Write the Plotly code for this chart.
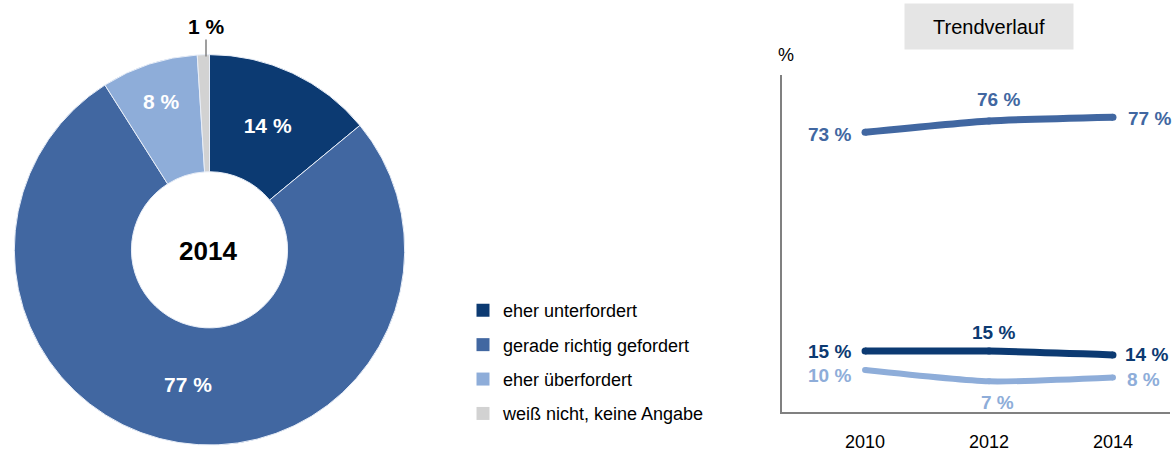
import plotly.graph_objects as go

# Donut data (2014)
pie_labels = ["eher unterfordert", "gerade richtig gefordert", "eher überfordert", "weiß nicht, keine Angabe"]
pie_values = [14, 77, 8, 1]
pie_colors = ["#0c3a72", "#4167a1", "#8eadd9", "#d2d2d2"]

# Trend data
years = [2010, 2012, 2014]
trend_richtig = [73, 76, 77]
trend_unter = [15, 15, 14]
trend_ueber = [10, 7, 8]

FONT = "Liberation Sans, Arial, sans-serif"

fig = go.Figure()

fig.add_trace(go.Pie(
    labels=pie_labels, values=pie_values, sort=False, direction="clockwise",
    rotation=0, hole=0.40,
    marker=dict(colors=pie_colors, line=dict(color="#e8eef8", width=1)),
    texttemplate=["<b>%{value} %</b>", "<b>%{value} %</b>", "<b>%{value} %</b>", ""],
    textposition=["inside", "inside", "inside", "none"],
    insidetextorientation="horizontal",
    textfont=dict(family=FONT, size=21, color="white"),
    domain=dict(x=[12/1172, 407/1172], y=[1-448/452, 1-55/452]),
    showlegend=False, hoverinfo="label+value",
))

# Legend entries
for lab, col in zip(pie_labels, pie_colors):
    fig.add_trace(go.Scatter(
        x=[None], y=[None], mode="markers", name=lab, legendgroup=lab,
        marker=dict(symbol="square", size=13, color=col),
        showlegend=True,
    ))

annotations = []

# label placement per point: (xanchor, yanchor, xshift, yshift)
def add_line(vals, color, places, width):
    fig.add_trace(go.Scatter(
        x=years, y=vals, mode="lines+markers",
        line=dict(color=color, width=width, shape="spline", smoothing=0.6),
        marker=dict(color=color, size=width),
        showlegend=False, cliponaxis=False,
    ))
    for yr, v, (xa, ya, xs, ys) in zip(years, vals, places):
        annotations.append(dict(
            x=yr, y=v, xref="x", yref="y", text=f"<b>{v} %</b>",
            showarrow=False, xanchor=xa, yanchor=ya, xshift=xs, yshift=ys,
            font=dict(family=FONT, size=19, color=color)))

add_line(trend_richtig, "#4167a1",
         [("right", "middle", -12, -2), ("center", "middle", 9, 21), ("left", "middle", 13, -1)], 7)
add_line(trend_unter, "#0c3a72",
         [("right", "middle", -12, 0), ("center", "middle", 4, 19), ("left", "middle", 10, 0)], 7)
add_line(trend_ueber, "#8eadd9",
         [("right", "middle", -12, -6), ("center", "middle", 8, -21), ("left", "middle", 12, -2)], 6)

annotations += [
    dict(text="<b>2014</b>", x=208/1172, y=1-253/452, xref="paper", yref="paper",
         xanchor="center", yanchor="middle",
         showarrow=False, font=dict(family=FONT, size=26, color="black")),
    dict(text="<b>1 %</b>", x=206/1172, y=1-57/452, xref="paper", yref="paper",
         showarrow=True, arrowhead=0, arrowwidth=1.5, arrowcolor="#808080",
         ax=0, ay=-30, standoff=0,
         font=dict(family=FONT, size=21, color="black")),
    dict(text="%", x=786/1172, y=1-55/452, xref="paper", yref="paper",
         xanchor="center", yanchor="middle",
         showarrow=False, font=dict(family=FONT, size=18, color="black")),
    dict(text="Trendverlauf", x=2012, xref="x", y=1-26.5/452, yref="paper",
         xanchor="center", yanchor="middle",
         showarrow=False, width=166, height=43, bgcolor="#e5e5e5",
         font=dict(family=FONT, size=20, color="black")),
]

fig.update_layout(
    width=1172, height=452,
    margin=dict(l=0, r=0, t=0, b=0),
    paper_bgcolor="white", plot_bgcolor="white",
    font=dict(family=FONT, color="black"),
    xaxis=dict(domain=[782/1172, 1170/1172], range=[2008.66, 2014.92],
               tickvals=years, ticktext=[str(y) for y in years],
               showgrid=False, zeroline=False, showline=True,
               linecolor="#808080", linewidth=2, ticks="",
               tickfont=dict(family=FONT, size=18, color="black"),
               ticklabelstandoff=12, fixedrange=True),
    yaxis=dict(domain=[1-415/452, 1-75/452], range=[-1.2, 88.3],
               showgrid=False, zeroline=False, showline=True,
               linecolor="#808080", linewidth=2, showticklabels=False,
               ticks="", fixedrange=True),
    legend=dict(x=463/1172, y=1-294/452, xanchor="left", yanchor="top",
                font=dict(family=FONT, size=18, color="black"),
                tracegroupgap=8, bgcolor="rgba(0,0,0,0)"),
    annotations=annotations,
)

fig.write_html("out.html")
